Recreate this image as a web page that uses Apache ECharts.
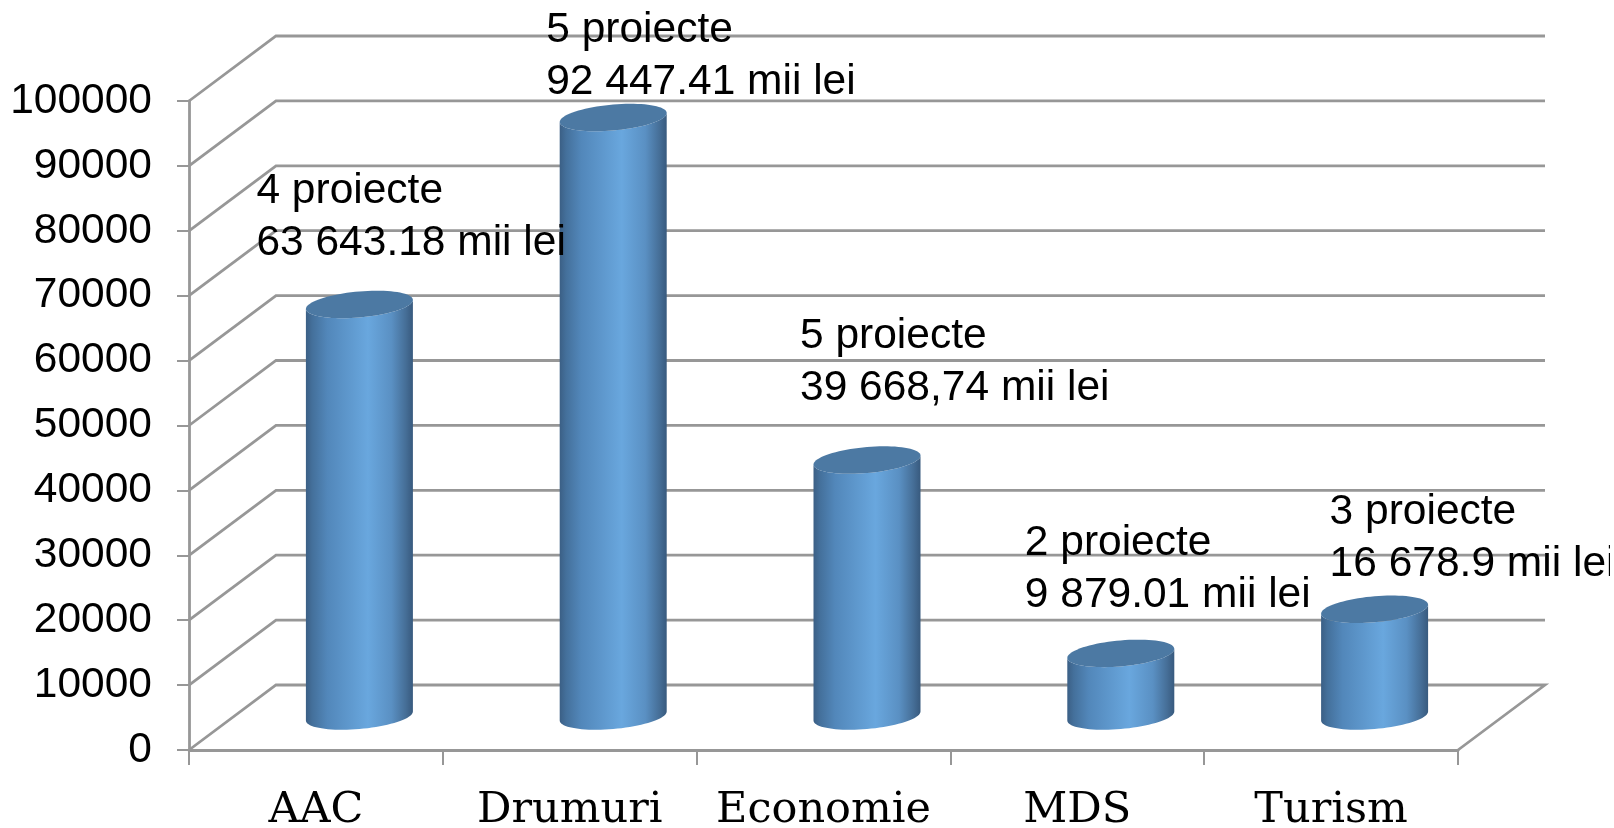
<!DOCTYPE html>
<html>
<head>
<meta charset="utf-8">
<style>html,body{margin:0;padding:0;background:#fff}#c{width:1614px;height:828px}</style>
<script src="https://cdn.jsdelivr.net/npm/echarts@6/dist/echarts.min.js"></script>
</head>
<body>
<div id="c"></div>
<script>
const categories = ['AAC', 'Drumuri', 'Economie', 'MDS', 'Turism'];
const values = [63643.18, 92447.41, 39668.74, 9879.01, 16678.9];
const labelLines1 = ['4 proiecte', '5 proiecte', '5 proiecte', '2 proiecte', '3 proiecte'];
const labelLines2 = ['63 643.18 mii lei', '92 447.41 mii lei', '39 668,74 mii lei', '9 879.01 mii lei', '16 678.9 mii lei'];
const yTicks = [0, 10000, 20000, 30000, 40000, 50000, 60000, 70000, 80000, 90000, 100000];

// label placement relative to the top of each cylinder
const labelNudge = [[-103, -35], [-67, -9], [-67, -46], [-96, -32], [-45, -19]];

const DEPTH_X = 87, DEPTH_Y = 65;
const BASE_LIFT = 34, TOP_LIFT = 32.5;
const RX = 53.5, TILT = 4.5, RY = 13;
const SANS = '"Liberation Sans", Arial, sans-serif';
const GRID = '#979797';

function ellipsePts(cx, cy, from, to, n) {
  const pts = [];
  for (let i = 0; i <= n; i++) {
    const t = from + (to - from) * i / n;
    pts.push([cx + RX * Math.cos(t), cy - TILT * Math.cos(t) + RY * Math.sin(t)]);
  }
  return pts;
}

const bodyFill = new echarts.graphic.LinearGradient(0, 0, 1, 0, [
  { offset: 0, color: '#3b5f85' },
  { offset: 0.06, color: '#44709b' },
  { offset: 0.2, color: '#5287ba' },
  { offset: 0.58, color: '#69a7de' },
  { offset: 0.8, color: '#5a90c3' },
  { offset: 0.93, color: '#466f98' },
  { offset: 1, color: '#385a7e' }
]);

function renderWall(params, api) {
  const v = api.value(1);
  const y = api.coord([0, v])[1];
  const half = api.size([1, 0])[0] / 2;
  const x0 = api.coord([0, 0])[0] - half;
  const x1 = api.coord([categories.length - 1, 0])[0] + half;
  const pts = [[x0, y], [x0 + DEPTH_X, y - DEPTH_Y], [x1 + DEPTH_X, y - DEPTH_Y]];
  if (v === 0) pts.push([x1, y]);
  return {
    type: 'polyline',
    shape: { points: pts },
    style: { fill: null, stroke: GRID, lineWidth: 2.8 }
  };
}

function renderCylinder(params, api) {
  const i = api.value(0);
  const base = api.coord([i, 0]);
  const top = api.coord([i, api.value(1)]);
  const cx = base[0] + DEPTH_X / 2;
  const by = base[1] - BASE_LIFT;
  const ty = top[1] - TOP_LIFT;
  const lower = ellipsePts(cx, by, Math.PI, 0, 40);
  const upper = ellipsePts(cx, ty, 0, Math.PI, 40);
  const full = ellipsePts(cx, ty, 0, 2 * Math.PI, 80);
  return {
    type: 'group',
    children: [
      { type: 'polygon', shape: { points: upper.concat(lower) }, style: { fill: bodyFill } },
      { type: 'polygon', shape: { points: full }, style: { fill: '#4c79a3' } }
    ]
  };
}

function renderLabel(params, api) {
  const i = api.value(0);
  const top = api.coord([i, api.value(1)]);
  const cx = top[0] + DEPTH_X / 2;
  const ty = top[1] - TOP_LIFT;
  const n = labelNudge[i];
  return {
    type: 'text',
    x: cx + n[0],
    y: ty + n[1],
    style: {
      text: labelLines1[i] + '\n' + labelLines2[i],
      font: '42.5px ' + SANS,
      lineHeight: 52,
      fill: '#000',
      align: 'left',
      verticalAlign: 'bottom'
    }
  };
}

const chart = echarts.init(document.getElementById('c'), null, { renderer: 'canvas' });
chart.setOption({
  animation: false,
  backgroundColor: '#fff',
  grid: { left: 189, right: 156, top: 101, bottom: 78, outerBoundsMode: 'none' },
  xAxis: {
    type: 'category',
    data: categories,
    boundaryGap: true,
    axisLine: { show: true, lineStyle: { color: GRID, width: 2.8 } },
    axisTick: { show: true, length: 15, alignWithLabel: false, lineStyle: { color: GRID, width: 2 } },
    axisLabel: { margin: 39, fontFamily: '"DejaVu Serif", serif', fontSize: 43, color: '#000', interval: 0 },
    splitLine: { show: false }
  },
  yAxis: {
    type: 'value',
    min: 0,
    max: 100000,
    interval: 10000,
    axisLine: { show: true, lineStyle: { color: GRID, width: 2.8 } },
    axisTick: { show: true, length: 12, lineStyle: { color: GRID, width: 2 } },
    axisLabel: { margin: 37, fontFamily: SANS, fontSize: 42.5, color: '#000', formatter: v => String(v) },
    splitLine: { show: false }
  },
  series: [
    { type: 'custom', z: 1, silent: true, renderItem: renderWall, encode: { x: 0, y: 1 },
      data: yTicks.map(v => [0, v]) },
    { type: 'custom', z: 2, silent: true, renderItem: renderCylinder, encode: { x: 0, y: 1 },
      data: values.map((v, i) => [i, v]) },
    { type: 'custom', z: 3, silent: true, renderItem: renderLabel, encode: { x: 0, y: 1 },
      data: values.map((v, i) => [i, v]) }
  ],
  graphic: [{ type: 'rect', z: 100, shape: { x: 1610, y: 0, width: 4, height: 828 }, style: { fill: '#fff' } }]
});
</script>
</body>
</html>
